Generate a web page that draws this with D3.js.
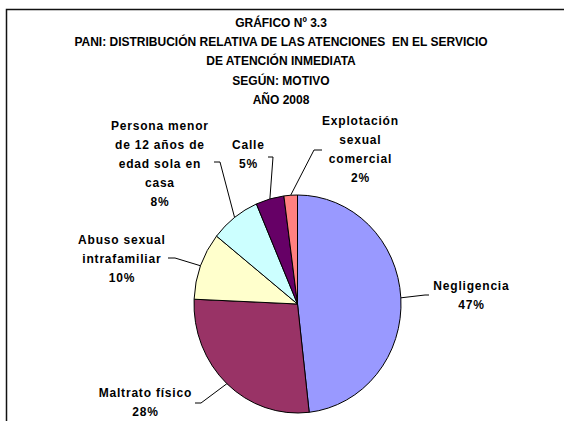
<!DOCTYPE html>
<html>
<head>
<meta charset="utf-8">
<script src="https://cdn.jsdelivr.net/npm/d3@7/dist/d3.min.js"></script>
<style>
  html, body { margin: 0; padding: 0; background: #fff; }
  svg { display: block; }
  text { font-family: "Liberation Sans", Arial, sans-serif; font-weight: bold; fill: #000; white-space: pre; }
</style>
</head>
<body>
<script>
// ---- data ----
const titleLines = [
  "GRÁFICO Nº 3.3",
  "PANI: DISTRIBUCIÓN RELATIVA DE LAS ATENCIONES  EN EL SERVICIO",
  "DE ATENCIÓN INMEDIATA",
  "SEGÚN: MOTIVO",
  "AÑO 2008"
];
const categories = ["Negligencia", "Maltrato físico", "Abuso sexual intrafamiliar",
  "Persona menor de 12 años de edad sola en casa", "Calle", "Explotación sexual comercial"];
const categoryLines = [
  ["Negligencia"],
  ["Maltrato físico"],
  ["Abuso sexual", "intrafamiliar"],
  ["Persona menor", "de 12 años de", "edad sola en", "casa"],
  ["Calle"],
  ["Explotación", "sexual", "comercial"]
];
const values = [48.2, 27.5, 10.0, 7.8, 4.4, 2.1];
const pctLabels = ["47%", "28%", "10%", "8%", "5%", "2%"];
const colors = ["#9999FF", "#993366", "#FFFFCC", "#CCFFFF", "#660066", "#FF8080"];

// ---- layout ----
const W = 564, H = 421;
const cx = 297.5, cy = 304, rx = 103.5, ry = 109;
// label centre x, first line centre y, leader stub [outerX, innerX, y]
const labelLayout = [
  { x: 471, y: 286, stub: [429, 425, 295] },
  { x: 145, y: 393, stub: [195, 201, 403] },
  { x: 121.5, y: 240, stub: [168, 175, 258] },
  { x: 159.5, y: 126, stub: [214, 220, 162] },
  { x: 248, y: 145, stub: [268, 273, 157] },
  { x: 360, y: 121, stub: [322, 314, 150] }
];
const lineGap = 19;

const svg = d3.select("body").append("svg").attr("width", W).attr("height", H);
svg.append("rect").attr("width", W).attr("height", H).attr("fill", "#fff");

// frame (cropped at right and bottom)
svg.append("rect").attr("x", 6.5).attr("y", 9.5).attr("width", 700).attr("height", 600)
  .attr("fill", "none").attr("stroke", "#111").attr("stroke-width", 1.5);

// title
svg.append("g").selectAll("text").data(titleLines).join("text")
  .attr("x", 281)
  .attr("y", (d, i) => 27 + i * 19.2)
  .attr("text-anchor", "middle")
  .attr("font-size", 12)
  .text(d => d);

// pie
const pie = d3.pie().sort(null).value(d => d);
const arcs = pie(values);
const arc = d3.arc().innerRadius(0).outerRadius(rx);

const pg = svg.append("g").attr("transform", `translate(${cx},${cy}) scale(1,${ry / rx})`);
pg.selectAll("path").data(arcs).join("path")
  .attr("d", arc)
  .attr("fill", (d, i) => colors[i])
  .attr("stroke", "#000")
  .attr("stroke-width", 1)
  .attr("vector-effect", "non-scaling-stroke")
  .attr("stroke-linejoin", "round");

// leader lines
const edgePoint = d => {
  const a = (d.startAngle + d.endAngle) / 2;
  return [cx + rx * Math.sin(a), cy - ry * Math.cos(a)];
};
svg.append("g").selectAll("polyline").data(arcs).join("polyline")
  .attr("fill", "none").attr("stroke", "#000").attr("stroke-width", 1)
  .attr("points", (d, i) => {
    const s = labelLayout[i].stub;
    const p = edgePoint(d);
    return [[s[0], s[2]], [s[1], s[2]], p].map(q => q.join(",")).join(" ");
  });

// labels
const lg = svg.append("g");
arcs.forEach((d, i) => {
  const L = labelLayout[i];
  const lines = categoryLines[i].concat([pctLabels[i]]);
  lg.append("text")
    .attr("text-anchor", "middle")
    .attr("font-size", 12)
    .attr("letter-spacing", "0.8px")
    .selectAll("tspan").data(lines).join("tspan")
    .attr("x", L.x + 0.4)
    .attr("y", (t, j) => L.y + 4.3 + j * lineGap)
    .text(t => t);
});
</script>
</body>
</html>
